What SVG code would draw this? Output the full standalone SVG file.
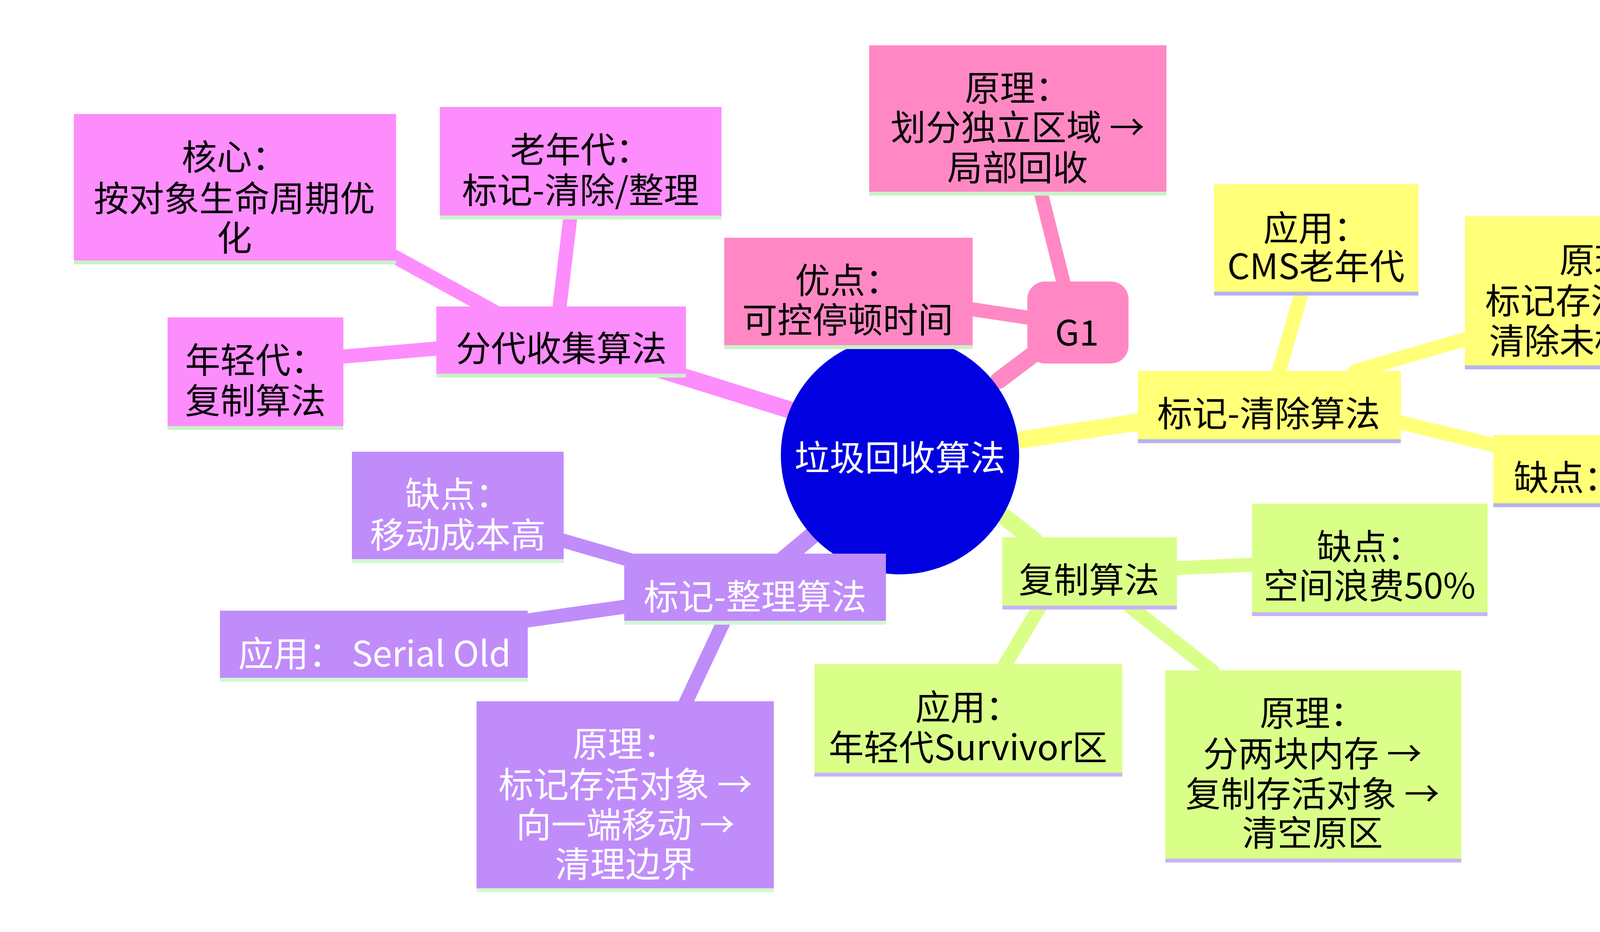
<svg xmlns="http://www.w3.org/2000/svg" width="4748" height="2387" viewBox="0 0 4748 2387">
<style>
text{font-family:"Noto Sans CJK SC","Noto Sans",sans-serif;font-size:90px;text-anchor:middle;dominant-baseline:central}
.m{fill:#fd8cfd}.p{fill:#ff88c4}.y{fill:#ffff78}.g{fill:#daff88}.v{fill:#c08cfa}
.bm{stroke:#c9f2c9;stroke-width:10}.by{stroke:#b4b4f0;stroke-width:10}.bg{stroke:#c8b4f5;stroke-width:10}.bv{stroke:#d2f8d2;stroke-width:10}
.w{fill:#fff}
</style>
<g id="connectors" stroke-linecap="round" fill="none">
<g stroke="#fd8cfd" stroke-width="36">
<line x1="2070" y1="1065" x2="1583" y2="913" stroke-width="44"/>
<line x1="1309" y1="822" x2="1004" y2="654"/>
<line x1="1430" y1="806" x2="1461" y2="548"/>
<line x1="1126" y1="892" x2="880" y2="913"/>
</g>
<g stroke="#ff88c4" stroke-width="36">
<line x1="2557" y1="974" x2="2678" y2="883" stroke-width="44"/>
<line x1="2724" y1="730" x2="2663" y2="487"/>
<line x1="2648" y1="816" x2="2481" y2="791"/>
</g>
<g stroke="#ffff78" stroke-width="36">
<line x1="2618" y1="1126" x2="2922" y2="1080" stroke-width="44"/>
<line x1="3272" y1="959" x2="3333" y2="746"/>
<line x1="3470" y1="950" x2="3759" y2="867"/>
<line x1="3576" y1="1080" x2="3829" y2="1141"/>
</g>
<g stroke="#daff88" stroke-width="36">
<line x1="2572" y1="1324" x2="2648" y2="1385" stroke-width="44"/>
<line x1="3013" y1="1455" x2="3211" y2="1446"/>
<line x1="2663" y1="1552" x2="2572" y2="1704"/>
<line x1="2891" y1="1552" x2="3105" y2="1720"/>
</g>
<g stroke="#c08cfa" stroke-width="36">
<line x1="2100" y1="1354" x2="2009" y2="1430" stroke-width="44"/>
<line x1="1704" y1="1461" x2="1443" y2="1385"/>
<line x1="1613" y1="1552" x2="1351" y2="1589"/>
<line x1="1857" y1="1583" x2="1750" y2="1811"/>
</g>
</g>
<g id="root"><circle cx="2304" cy="1166" r="305" fill="#0000e0"/><text x="2304" y="1166" class="w">垃圾回收算法</text></g>
<g id="fendai"><rect x="1117" y="785" width="639" height="177" class="m"/><line x1="1117" y1="962" x2="1756" y2="962" class="bm"/><text x="1437" y="886">分代收集算法</text></g>
<g id="hexin"><rect x="189" y="292" width="825" height="380" class="m"/><line x1="189" y1="672" x2="1014" y2="672" class="bm"/><text x="600" y="396">核心：</text><text x="600" y="502">按对象生命周期优</text><text x="600" y="603">化</text></g>
<g id="laonian"><rect x="1126" y="274" width="721" height="283" class="m"/><line x1="1126" y1="557" x2="1847" y2="557" class="bm"/><text x="1486" y="377">老年代：</text><text x="1486" y="481">标记-清除/整理</text></g>
<g id="nianqing"><rect x="429" y="813" width="450" height="283" class="m"/><line x1="429" y1="1096" x2="879" y2="1096" class="bm"/><text x="654" y="916">年轻代：</text><text x="654" y="1020">复制算法</text></g>
<g id="g1"><rect x="2630" y="721" width="259" height="210" rx="45" class="p"/><text x="2757" y="846">G1</text></g>
<g id="g1yuanli"><rect x="2225" y="116" width="761" height="380" class="p"/><line x1="2225" y1="496" x2="2986" y2="496" class="bm"/><text x="2605" y="219">原理：</text><text x="2605" y="320">划分独立区域 →</text><text x="2605" y="423">局部回收</text></g>
<g id="g1youdian"><rect x="1854" y="609" width="636" height="280" class="p"/><line x1="1854" y1="889" x2="2490" y2="889" class="bm"/><text x="2170" y="712">优点：</text><text x="2170" y="813">可控停顿时间</text></g>
<g id="biaojiqingchu"><rect x="2913" y="950" width="673" height="180" class="y"/><line x1="2913" y1="1130" x2="3586" y2="1130" class="by"/><text x="3248" y="1053">标记-清除算法</text></g>
<g id="cms"><rect x="3108" y="472" width="523" height="280" class="y"/><line x1="3108" y1="752" x2="3631" y2="752" class="by"/><text x="3369" y="578">应用：</text><text x="3369" y="676">CMS老年代</text></g>
<g id="qcyuanli"><rect x="3750" y="554" width="758" height="387" class="y"/><line x1="3750" y1="941" x2="4508" y2="941" class="by"/><text x="4127" y="660">原理：</text><text x="4127" y="764">标记存活对象 →</text><text x="4127" y="867">清除未标记对象</text></g>
<g id="suipian"><rect x="3823" y="1114" width="758" height="180" class="y"/><line x1="3823" y1="1294" x2="4581" y2="1294" class="by"/><text x="4200" y="1217">缺点：  内存碎片</text></g>
<g id="fuzhi"><rect x="2566" y="1376" width="447" height="180" class="g"/><line x1="2566" y1="1556" x2="3013" y2="1556" class="bg"/><text x="2788" y="1479">复制算法</text></g>
<g id="langfei"><rect x="3205" y="1290" width="603" height="283" class="g"/><line x1="3205" y1="1573" x2="3808" y2="1573" class="bg"/><text x="3506" y="1394">缺点：</text><text x="3506" y="1494">空间浪费50%</text></g>
<g id="survivor"><rect x="2085" y="1701" width="788" height="283" class="g"/><line x1="2085" y1="1984" x2="2873" y2="1984" class="bg"/><text x="2478" y="1805">应用：</text><text x="2478" y="1908">年轻代Survivor区</text></g>
<g id="fzyuanli"><rect x="2983" y="1717" width="758" height="487" class="g"/><line x1="2983" y1="2204" x2="3741" y2="2204" class="bg"/><text x="3360" y="1820">原理：</text><text x="3360" y="1924">分两块内存 →</text><text x="3360" y="2027">复制存活对象 →</text><text x="3360" y="2127">清空原区</text></g>
<g id="zhengli"><rect x="1598" y="1418" width="670" height="177" class="v"/><line x1="1598" y1="1595" x2="2268" y2="1595" class="bv"/><text x="1933" y="1522" class="w">标记-整理算法</text></g>
<g id="chengben"><rect x="901" y="1157" width="542" height="280" class="v"/><line x1="901" y1="1437" x2="1443" y2="1437" class="bv"/><text x="1172" y="1260" class="w">缺点：</text><text x="1172" y="1364" class="w">移动成本高</text></g>
<g id="serial"><rect x="563" y="1564" width="788" height="177" class="v"/><line x1="563" y1="1741" x2="1351" y2="1741" class="bv"/><text x="959" y="1668" class="w">应用：  Serial Old</text></g>
<g id="zlyuanli"><rect x="1220" y="1796" width="761" height="484" class="v"/><line x1="1220" y1="2280" x2="1981" y2="2280" class="bv"/><text x="1601" y="1899" class="w">原理：</text><text x="1601" y="2003" class="w">标记存活对象 →</text><text x="1601" y="2106" class="w">向一端移动 →</text><text x="1601" y="2207" class="w">清理边界</text></g>
</svg>
